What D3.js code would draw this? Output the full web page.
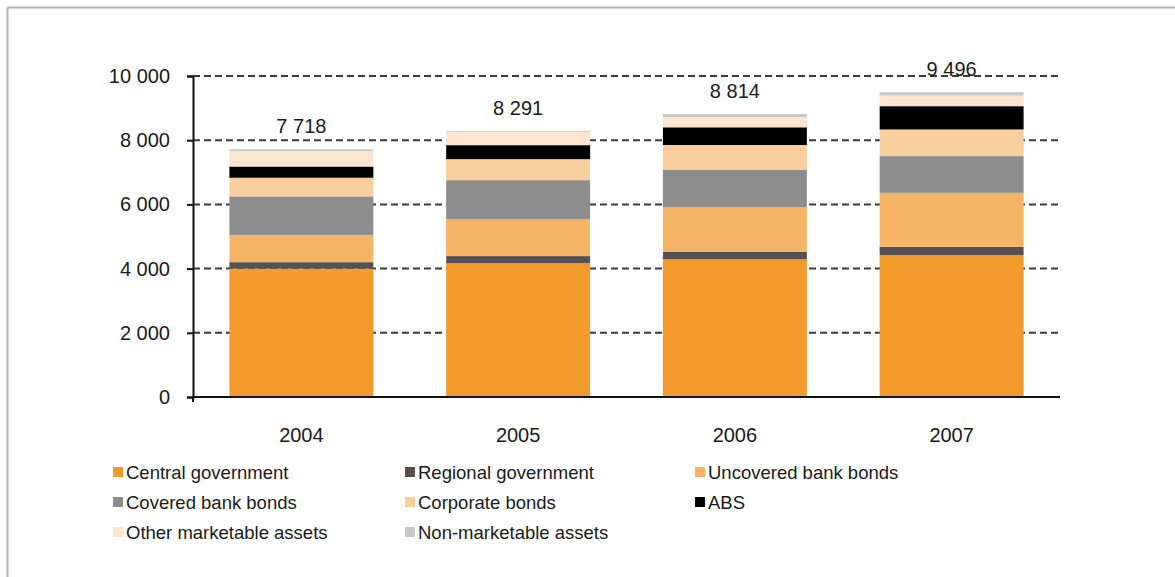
<!DOCTYPE html>
<html><head><meta charset="utf-8">
<script src="https://cdn.jsdelivr.net/npm/d3@7"></script>
<style>body{margin:0;background:#fff;}svg{display:block;font-family:"Liberation Sans",Arial,sans-serif;}</style>
</head><body><svg id="c" width="1175" height="577"></svg>
<script>
const years = ["2004","2005","2006","2007"];
const seriesNames = ["Central government","Regional government","Uncovered bank bonds","Covered bank bonds","Corporate bonds","ABS","Other marketable assets","Non-marketable assets"];
const central      = [4000, 4170, 4290, 4420];
const regional     = [200, 220, 236, 260];
const uncovered    = [850, 1150, 1384, 1680];
const covered      = [1200, 1215, 1162, 1145];
const corporate    = [580, 655, 778, 830];
const abs          = [350, 436, 552, 725];
const otherMkt     = [480, 415, 320, 330];
const nonMkt       = [58, 30, 92, 106];
const totals       = [7718, 8291, 8814, 9496];
const totalLabels  = ["7 718","8 291","8 814","9 496"];
const yTicks       = [0, 2000, 4000, 6000, 8000, 10000];
const yTickLabels  = ["0","2 000","4 000","6 000","8 000","10 000"];
const colors = ["#f29b2c","#565150","#f6b466","#8d8d8d","#f9cf9d","#000000","#fde5d0","#c9c9c9"];

const seriesVals = [central, regional, uncovered, covered, corporate, abs, otherMkt, nonMkt];
const rows = years.map((y,i)=>{const r={year:y}; seriesNames.forEach((n,k)=>r[n]=seriesVals[k][i]); return r;});

const svg = d3.select("#c");
// frame
svg.append("line").attr("x1",7.5).attr("x2",1175).attr("y1",7.5).attr("y2",7.5).attr("stroke","#b5b5b5").attr("stroke-width",2);
svg.append("line").attr("x1",7.5).attr("x2",7.5).attr("y1",7.5).attr("y2",577).attr("stroke","#b5b5b5").attr("stroke-width",2);

const x0=193, x1=1060, yTop=76, yBot=397;
const x = d3.scaleBand().domain(years).range([x0,x1]).paddingInner(0.336).paddingOuter(0.168);
const y = d3.scaleLinear().domain([0,10000]).range([yBot,yTop]);

// grid
svg.append("g").selectAll("line").data(yTicks.filter(t=>t>0)).join("line")
  .attr("x1",x0).attr("x2",x1).attr("y1",d=>y(d)).attr("y2",d=>y(d))
  .attr("stroke","#3a3a3a").attr("stroke-width",2).attr("stroke-dasharray","7,4");

const stack = d3.stack().keys(seriesNames)(rows);
svg.append("g").selectAll("g").data(stack).join("g").attr("fill",(d,i)=>colors[i])
  .selectAll("rect").data(d=>d).join("rect")
  .attr("x",d=>x(d.data.year)).attr("width",x.bandwidth())
  .attr("y",d=>y(d[1])).attr("height",d=>y(d[0])-y(d[1]));

// axes
const yAxis = svg.append("g").attr("transform",`translate(${x0},0)`)
  .call(d3.axisLeft(y).tickValues(yTicks).tickFormat((d,i)=>yTickLabels[i]).tickSize(6).tickPadding(17));
yAxis.select(".domain").attr("stroke","#111").attr("stroke-width",2);
yAxis.selectAll(".tick line").attr("stroke","#111").attr("stroke-width",2);
yAxis.selectAll("text").attr("font-size",20).attr("fill","#1a1a1a");

const xAxis = svg.append("g").attr("transform",`translate(0,${yBot})`)
  .call(d3.axisBottom(x).tickSize(0).tickPadding(31));
xAxis.select(".domain").attr("stroke","#111").attr("stroke-width",2).attr("d",`M${x0},0H${x1}`);
xAxis.selectAll("text").attr("font-size",20).attr("fill","#1a1a1a");
svg.append("line").attr("x1",x0).attr("x2",x0).attr("y1",yBot).attr("y2",yBot+5).attr("stroke","#111").attr("stroke-width",2);

// totals
svg.append("g").selectAll("text").data(totals).join("text")
  .attr("x",(d,i)=>x(years[i])+x.bandwidth()/2).attr("y",d=>y(d)-16)
  .attr("text-anchor","middle").attr("font-size",20).attr("fill","#1a1a1a")
  .text((d,i)=>totalLabels[i]);

// legend
const colX=[113,405,695], rowY=[473,503,533];
const leg = svg.append("g").selectAll("g").data(seriesNames).join("g")
  .attr("transform",(d,i)=>`translate(${colX[i%3]},${rowY[Math.floor(i/3)]})`);
leg.append("rect").attr("x",0).attr("y",-6).attr("width",10).attr("height",10).attr("fill",(d,i)=>colors[i]);
leg.append("text").attr("x",13).attr("y",6).attr("font-size",18.5).attr("fill","#1a1a1a").text(d=>d);
</script></body></html>
